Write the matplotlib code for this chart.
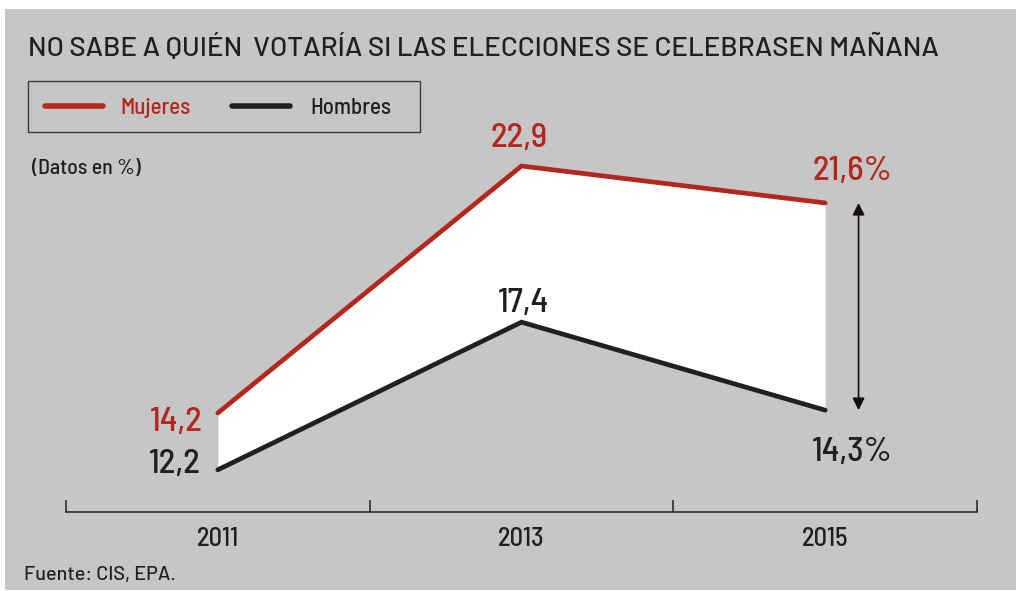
import matplotlib
matplotlib.use("Agg")
import matplotlib.pyplot as plt
from matplotlib.patches import Rectangle
from matplotlib.lines import Line2D

# ---- data ----
years = ["2011", "2013", "2015"]
mujeres = [14.2, 22.9, 21.6]
hombres = [12.2, 17.4, 14.3]
mujeres_labels = ["14,2", "22,9", "21,6%"]
hombres_labels = ["12,2", "17,4", "14,3%"]
title = "NO SABE A QUIÉN  VOTARÍA SI LAS ELECCIONES SE CELEBRASEN MAÑANA"
legend_names = ["Mujeres", "Hombres"]
unit_note = "(Datos en %)"
source = "Fuente: CIS, EPA."

RED = "#b2281f"
BLACK = "#231f20"
GRAY = "#c6c6c6"
NARROW = ["Barlow Semi Condensed", "Barlow Condensed", "Archivo Narrow", "DejaVu Sans"]
REG = ["Barlow", "Liberation Sans", "DejaVu Sans"]

W, H = 1016, 591
fig = plt.figure(figsize=(W / 100, H / 100), dpi=100)
fig.patch.set_facecolor("white")

def fx(px):
    return px / W

def fy(py):
    return 1 - py / H

# gray panel
fig.patches.append(Rectangle((fx(5), fy(590)), fx(1016) - fx(5), fy(9) - fy(590),
                             transform=fig.transFigure, facecolor=GRAY, edgecolor="none", zorder=-5))

# axes
ax_left, ax_right, ax_top, ax_bot = 66, 977, 130, 512
ax = fig.add_axes([fx(ax_left), fy(ax_bot), fx(ax_right) - fx(ax_left), fy(ax_top) - fy(ax_bot)])
ax.set_facecolor("none")
ax.set_zorder(2)
ax.set_xlim(-0.5, 2.5)
ax.set_ylim(10.713, 24.168)

x = list(range(len(years)))
ax.fill_between(x, hombres, mujeres, color="white", linewidth=0, zorder=1)
ax.plot(x, mujeres, color=RED, lw=3.4, solid_capstyle="round", solid_joinstyle="miter", zorder=3)
ax.plot(x, hombres, color=BLACK, lw=3.4, solid_capstyle="round", solid_joinstyle="miter", zorder=3)

for s in ["top", "left", "right"]:
    ax.spines[s].set_visible(False)
ax.spines["bottom"].set_color(BLACK)
ax.spines["bottom"].set_linewidth(1.1)
ax.set_yticks([])
ax.set_xticks([-0.5, 0.5, 1.5, 2.5])
ax.set_xticklabels([])
ax.tick_params(axis="x", which="major", direction="in", length=9, width=1.1, color=BLACK)
ax.set_xticks(x, minor=True)
ax.set_xticklabels(years, minor=True, fontsize=19, color=BLACK, family=NARROW, weight="medium")
ax.tick_params(axis="x", which="minor", length=0, pad=11)

# data labels
off_m = [(-42, -9), (-2, 27), (27, 31)]
off_h = [(-43, 5), (2, 19), (27, -42)]
for i in x:
    ax.annotate(mujeres_labels[i], (i, mujeres[i]), xytext=off_m[i], textcoords="offset pixels",
                ha="center", va="center", fontsize=25, color=RED, family=NARROW, weight="medium")
    ax.annotate(hombres_labels[i], (i, hombres[i]), xytext=off_h[i], textcoords="offset pixels",
                ha="center", va="center", fontsize=25, color=BLACK, family=NARROW, weight="medium")

# difference arrow
ax.annotate("", xy=(2.11, hombres[2]), xytext=(2.11, mujeres[2]),
            arrowprops=dict(arrowstyle="<|-|>", color="#140c05", lw=1.2,
                            mutation_scale=18, shrinkA=0, shrinkB=0))

# title
fig.text(fx(28), fy(47), title, fontsize=20, color=BLACK, family=REG, weight="medium",
         ha="left", va="center")

# legend box
fig.patches.append(Rectangle((fx(28), fy(132)), fx(420) - fx(28), fy(81) - fy(132),
                             transform=fig.transFigure, facecolor="none", edgecolor="#3a3a3a", lw=1.0))
fig.lines.append(Line2D([fx(45), fx(103)], [fy(106), fy(106)], transform=fig.transFigure,
                        color=RED, lw=4, solid_capstyle="round"))
fig.lines.append(Line2D([fx(232), fx(290)], [fy(106), fy(106)], transform=fig.transFigure,
                        color=BLACK, lw=4, solid_capstyle="round"))
fig.text(fx(120), fy(108), legend_names[0], fontsize=16.5, color=RED, family=NARROW, weight="medium",
         ha="left", va="center")
fig.text(fx(310), fy(108), legend_names[1], fontsize=16.5, color=BLACK, family=NARROW, weight="medium",
         ha="left", va="center")

fig.text(fx(32), fy(168), unit_note, fontsize=15.7, color=BLACK, family=NARROW, weight="medium",
         ha="left", va="center")
fig.text(fx(24), fy(575), source, fontsize=14.3, color=BLACK, family=REG, weight="medium",
         ha="left", va="center")

fig.savefig("out.png", dpi=100, facecolor=fig.get_facecolor())
